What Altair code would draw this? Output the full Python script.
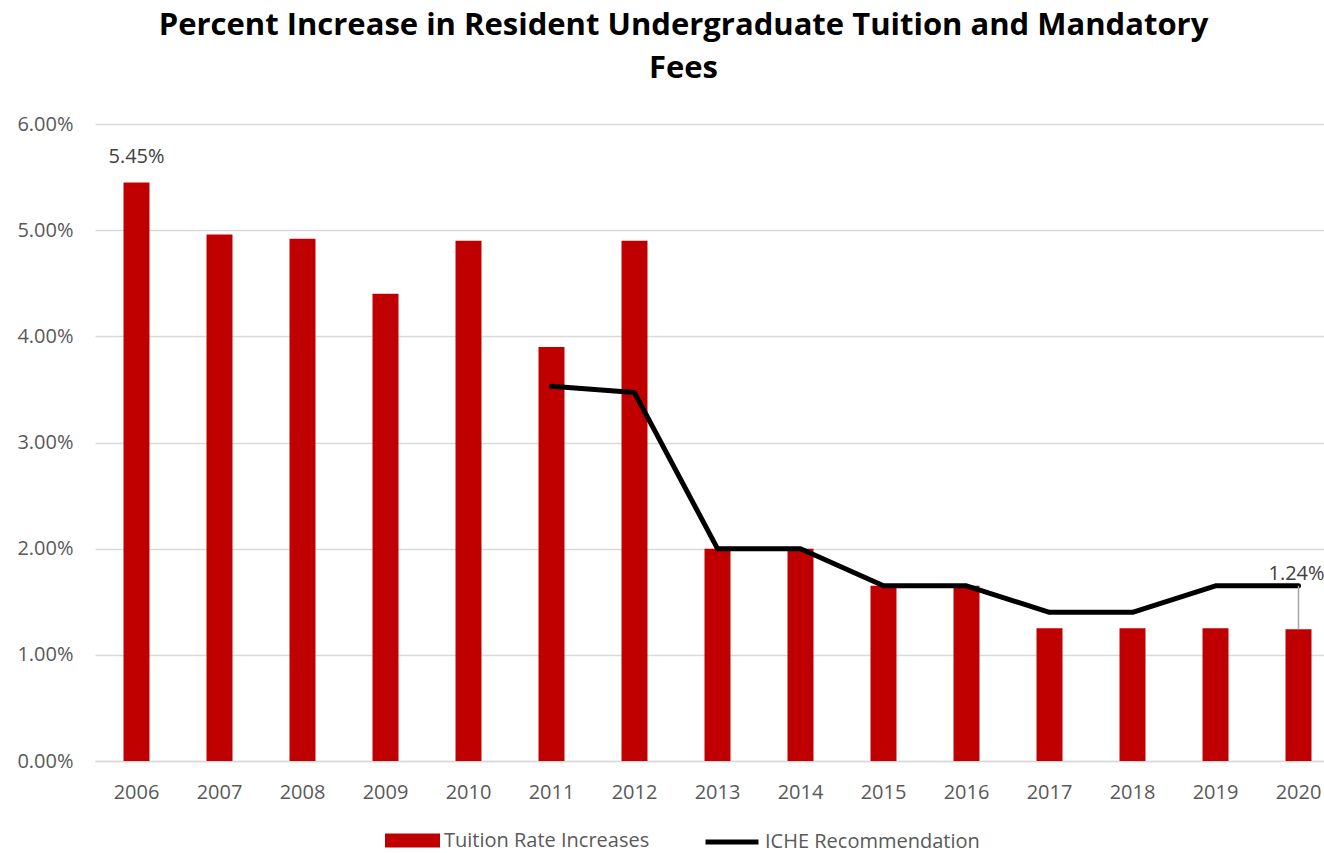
import altair as alt
import pandas as pd

years = [str(y) for y in range(2006, 2021)]
tuition = [0.0545, 0.0496, 0.0492, 0.0440, 0.0490, 0.0390, 0.0490,
           0.0200, 0.0200, 0.0165, 0.0165, 0.0125, 0.0125, 0.0125, 0.0124]
iche = [None, None, None, None, None, 0.0353, 0.0347,
        0.0200, 0.0200, 0.0165, 0.0165, 0.0140, 0.0140, 0.0165, 0.0165]

df = pd.DataFrame({"year": years, "tuition": tuition, "iche": iche})
df["series_bar"] = "Tuition Rate Increases"
df["series_line"] = "ICHE Recommendation"

FONT = "Open Sans"
GREY = "#595959"

x_scale = alt.Scale(paddingInner=0.687, paddingOuter=0.3435, range=[0, 1245])
x_enc = alt.X("year:N", title=None, scale=x_scale,
              axis=alt.Axis(labelAngle=0, labelFontSize=20, labelColor=GREY,
                            labelFont=FONT, ticks=False, domainColor="#D9D9D9",
                            domainWidth=1.5, labelPadding=21, grid=False))
y_scale = alt.Scale(domain=[0, 0.06], nice=False)

base = alt.Chart(df)

bars = base.mark_bar(color="#C00000").encode(
    x=x_enc,
    y=alt.Y("tuition:Q", title=None, scale=y_scale,
            axis=alt.Axis(format=".2%", values=[0, 0.01, 0.02, 0.03, 0.04, 0.05, 0.06],
                          labelFontSize=20, labelColor=GREY, labelFont=FONT,
                          ticks=False, domain=False, gridColor="#D9D9D9",
                          gridWidth=1.5, labelPadding=22)),
    color=alt.Color("series_bar:N", title=None,
                    scale=alt.Scale(domain=["Tuition Rate Increases"], range=["#C00000"]),
                    legend=alt.Legend(orient="none", legendX=290, legendY=689,
                                      symbolType="M-1,-0.255H1V0.255H-1Z",
                                      symbolSize=3025, symbolStrokeWidth=0,
                                      labelFontSize=20, labelFont=FONT, labelLimit=0,
                                      labelColor=GREY, labelOffset=4, padding=0)),
)

line = base.mark_line(strokeWidth=5, strokeCap="round", strokeJoin="round").encode(
    x=alt.X("year:N", scale=x_scale),
    y=alt.Y("iche:Q", scale=y_scale),
    color=alt.Color("series_line:N", title=None,
                    scale=alt.Scale(domain=["ICHE Recommendation"], range=["black"]),
                    legend=alt.Legend(orient="none", legendX=608, legendY=689,
                                      symbolType="stroke", symbolSize=2809,
                                      symbolStrokeWidth=5,
                                      labelFontSize=20, labelFont=FONT, labelLimit=0,
                                      labelColor=GREY, labelOffset=4, padding=0)),
).transform_filter("isValid(datum.iche)")

label_first = base.mark_text(fontSize=20, font=FONT, color="#404040",
                             baseline="middle", dy=-25).encode(
    x=alt.X("year:N", scale=x_scale), y=alt.Y("tuition:Q", scale=y_scale),
    text=alt.Text("tuition:Q", format=".2%"),
).transform_filter("datum.year == '2006'")

leader = base.mark_rule(color="#A6A6A6", strokeWidth=1.5).encode(
    x=alt.X("year:N", scale=x_scale), y=alt.Y("tuition:Q", scale=y_scale), y2="iche:Q",
).transform_filter("datum.year == '2020'")

label_last = base.mark_text(fontSize=20, font=FONT, color="#404040",
                            baseline="middle", dy=-12, dx=-2).encode(
    x=alt.X("year:N", scale=x_scale), y=alt.Y("iche:Q", scale=y_scale),
    text=alt.Text("tuition:Q", format=".2%"),
).transform_filter("datum.year == '2020'")

chart = alt.layer(bars, line, leader, label_first, label_last).resolve_scale(
    color="independent"
).properties(
    width=1229, height=637,
    title=alt.TitleParams(
        ["Percent Increase in Resident Undergraduate Tuition and Mandatory", "Fees"],
        font=FONT, fontSize=31, fontWeight="bold", color="black",
        anchor="middle", dx=-26, offset=29, lineHeight=43),
    autosize=alt.AutoSizeParams(type="none"),
    padding={"left": 95, "top": 124, "right": 0, "bottom": 92},
).configure_view(stroke=None)

chart.save("out.html", embed_options={"renderer": "svg", "actions": False})
